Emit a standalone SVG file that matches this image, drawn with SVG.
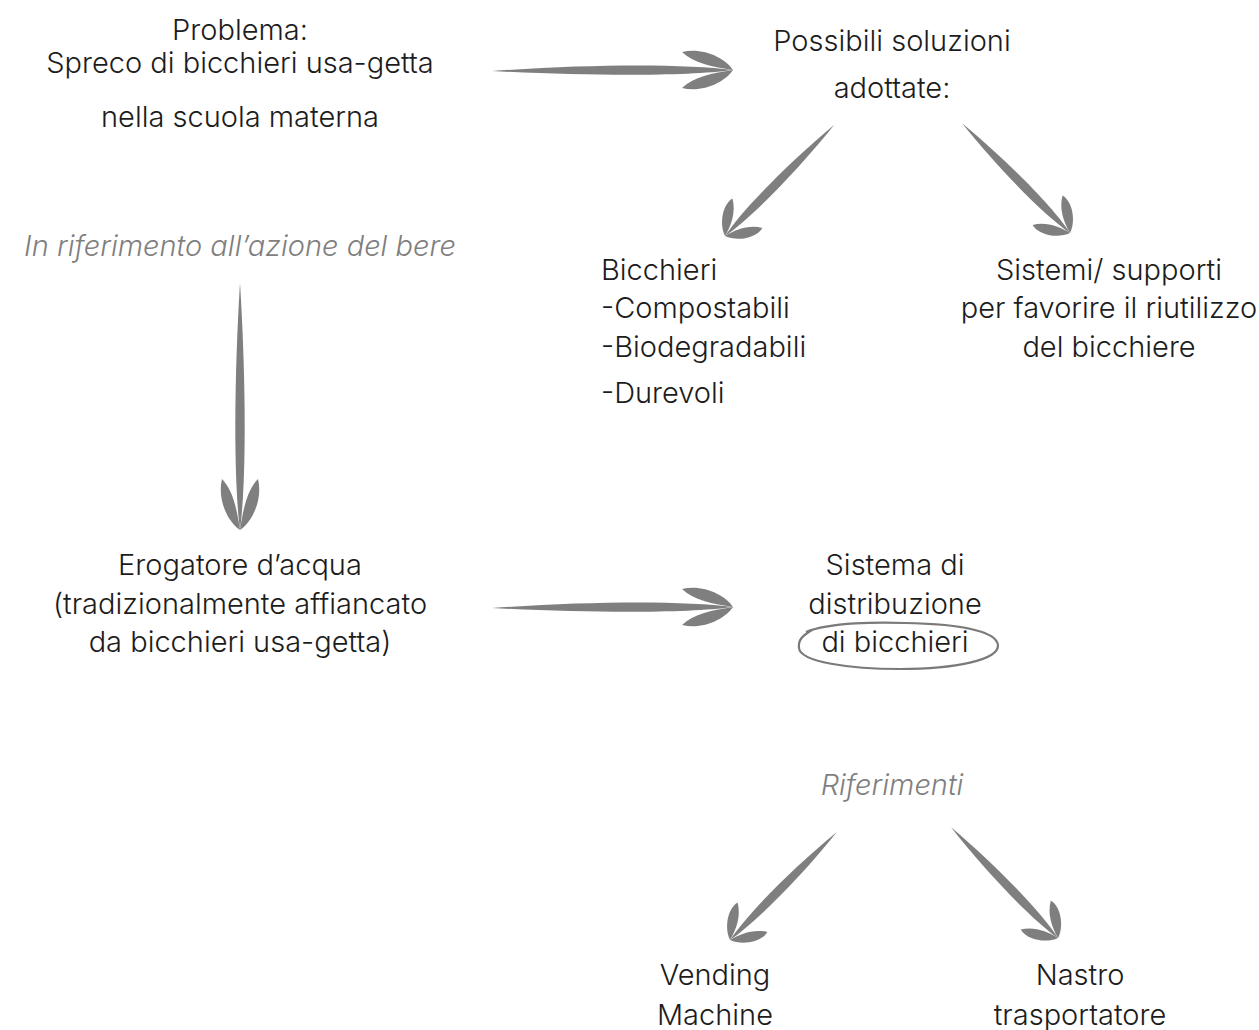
<svg xmlns="http://www.w3.org/2000/svg" xmlns:xlink="http://www.w3.org/1999/xlink" width="1259" height="1030" viewBox="0 0 1259 1030">
<style>
.t{font-family:Inter,"Liberation Sans",Arial,sans-serif;font-weight:300;font-size:29px;fill:#1c1c1c;}
.c{text-anchor:middle;}
.i{font-style:italic;fill:#7f7f7f;}
.ar{fill:#7f7f7f;}
.ell{fill:none;stroke:#7a7a7a;stroke-width:2.2;}
</style>
<defs>
<path id="barbH" d="M0,0 C-20,-3 -40,-7 -51,-18 C-30,-23 -8,-12 0,0 Z"/>
<path id="barbD" d="M0,0 C-12,-3 -25,-9 -32,-21 C-20,-24 -4,-12 0,0 Z"/>
</defs>
<rect width="1259" height="1030" fill="#fff"/>

<g id="connectors" class="ar">
  <g id="a-problem-solutions" transform="translate(733,70) rotate(0)">
    <path d="M-241,1 C-145,-6 -48,-6.5 0,0 C-48,6.5 -145,6 -241,1 Z"/>
    <use xlink:href="#barbH"/><use xlink:href="#barbH" transform="scale(1,-1)"/>
  </g>
  <g id="a-drink-erogatore" transform="translate(240,530) rotate(90)">
    <path d="M-247,0 C-150,-6 -50,-6.5 0,0 C-50,6.5 -150,6 -247,0 Z"/>
    <use xlink:href="#barbH"/><use xlink:href="#barbH" transform="scale(1,-1)"/>
  </g>
  <g id="a-erogatore-sistema" transform="translate(733,607) rotate(0)">
    <path d="M-241,1 C-145,-6 -48,-6.5 0,0 C-48,6.5 -145,6 -241,1 Z"/>
    <use xlink:href="#barbH"/><use xlink:href="#barbH" transform="scale(1,-1)"/>
  </g>
  <g id="a-sol-bicchieri" transform="translate(725,236) rotate(134.5)">
    <path d="M-156,0 C-95,-6 -30,-6 0,0 C-30,6 -95,6 -156,0 Z"/>
    <use xlink:href="#barbD"/><use xlink:href="#barbD" transform="scale(1,-1)"/>
  </g>
  <g id="a-sol-sistemi" transform="translate(1070,233) rotate(45.5)">
    <path d="M-154,0 C-95,-6 -30,-6 0,0 C-30,6 -95,6 -154,0 Z"/>
    <use xlink:href="#barbD"/><use xlink:href="#barbD" transform="scale(1,-1)"/>
  </g>
  <g id="a-rif-vending" transform="translate(730,940) rotate(134.7)">
    <path d="M-152,0 C-95,-6 -30,-6 0,0 C-30,6 -95,6 -152,0 Z"/>
    <use xlink:href="#barbD"/><use xlink:href="#barbD" transform="scale(1,-1)"/>
  </g>
  <g id="a-rif-nastro" transform="translate(1058,938) rotate(46)">
    <path d="M-154,0 C-95,-6 -30,-6 0,0 C-30,6 -95,6 -154,0 Z"/>
    <use xlink:href="#barbD"/><use xlink:href="#barbD" transform="scale(1,-1)"/>
  </g>
</g>

<g id="problem" class="t c">
  <text x="240" y="40">Problema:</text>
  <text x="240" y="73">Spreco di bicchieri usa-getta</text>
  <text x="240" y="127">nella scuola materna</text>
</g>
<g id="solutions" class="t c">
  <text x="892" y="51">Possibili soluzioni</text>
  <text x="892" y="98">adottate:</text>
</g>
<g id="drink-ref" class="t c i">
  <text x="240" y="256">In riferimento all’azione del bere</text>
</g>
<g id="bicchieri" class="t">
  <text x="601" y="280">Bicchieri</text>
  <text x="601" y="318">-Compostabili</text>
  <text x="601" y="357">-Biodegradabili</text>
  <text x="601" y="403">-Durevoli</text>
</g>
<g id="sistemi" class="t c">
  <text x="1109" y="280">Sistemi/ supporti</text>
  <text x="1109" y="318">per favorire il riutilizzo</text>
  <text x="1109" y="357">del bicchiere</text>
</g>
<g id="erogatore" class="t c">
  <text x="240" y="575">Erogatore d’acqua</text>
  <text x="240" y="614">(tradizionalmente affiancato</text>
  <text x="240" y="652">da bicchieri usa-getta)</text>
</g>
<g id="sistema" class="t c">
  <text x="895" y="575">Sistema di</text>
  <text x="895" y="614">distribuzione</text>
  <text x="895" y="652">di bicchieri</text>
  <path class="ell" d="M806,632 C830,622 880,622 905,623 C955,624 996,630 998,645 C999,660 955,669 900,669 C850,669 800,662 799,648 C798,640 802,636 812,630"/>
</g>
<g id="riferimenti" class="t c i">
  <text x="892" y="795">Riferimenti</text>
</g>
<g id="vending" class="t c">
  <text x="715" y="985">Vending</text>
  <text x="715" y="1025">Machine</text>
</g>
<g id="nastro" class="t c">
  <text x="1080" y="985">Nastro</text>
  <text x="1080" y="1025">trasportatore</text>
</g>
</svg>
